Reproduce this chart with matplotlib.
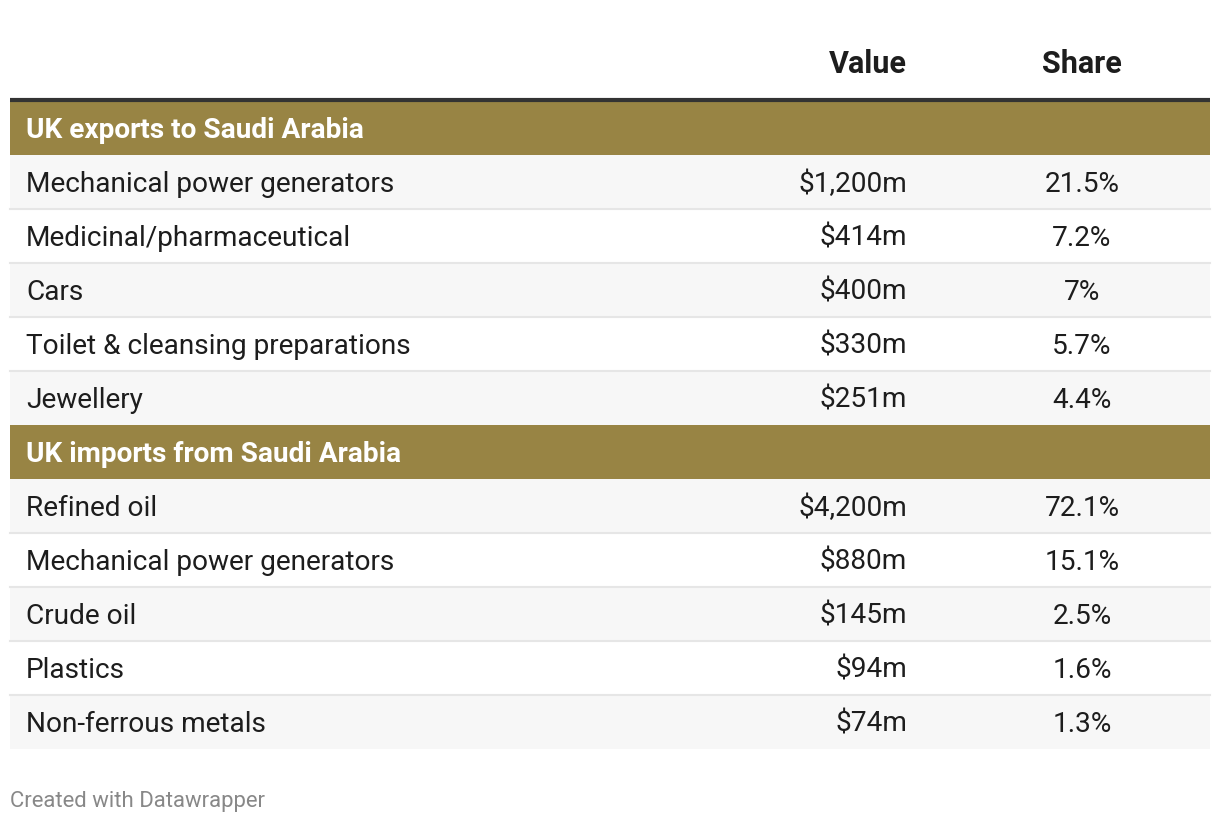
import matplotlib.pyplot as plt
from matplotlib.patches import Rectangle

plt.rcParams['font.family'] = ['Roboto', 'DejaVu Sans']

groups = ["UK exports to Saudi Arabia", "UK imports from Saudi Arabia"]
export_items = ["Mechanical power generators", "Medicinal/pharmaceutical", "Cars",
                "Toilet & cleansing preparations", "Jewellery"]
export_values = ["$1,200m", "$414m", "$400m", "$330m", "$251m"]
export_shares = ["21.5%", "7.2%", "7%", "5.7%", "4.4%"]
import_items = ["Refined oil", "Mechanical power generators", "Crude oil",
                "Plastics", "Non-ferrous metals"]
import_values = ["$4,200m", "$880m", "$145m", "$94m", "$74m"]
import_shares = ["72.1%", "15.1%", "2.5%", "1.6%", "1.3%"]

GOLD = "#988444"
ROW_GRAY = "#f7f7f7"
LINE = "#e6e6e6"
TXT = "#1d1d1d"

W, H = 1220, 824
fig = plt.figure(figsize=(W / 100, H / 100), dpi=100)
ax = fig.add_axes([0, 0, 1, 1])
ax.set_xlim(0, W)
ax.set_ylim(H, 0)
ax.axis("off")

left, right = 10, 1210
val_x, share_x = 907, 1082
row_h = 54
fs = 20.2

# column headers
ax.text(val_x, 64, "Value", ha="right", va="center", fontsize=22, fontweight="bold", color=TXT)
ax.text(share_x, 64, "Share", ha="center", va="center", fontsize=22, fontweight="bold", color=TXT)
ax.plot([left, right], [99.5, 99.5], color="#333333", lw=3, solid_capstyle="butt")

y = 101
for name, items, values, shares in [(groups[0], export_items, export_values, export_shares),
                                    (groups[1], import_items, import_values, import_shares)]:
    ax.add_patch(Rectangle((left, y), right - left, row_h, color=GOLD, lw=0))
    ax.text(26, y + row_h / 2 + 2.5, name, ha="left", va="center", fontsize=fs,
            fontweight="bold", color="white")
    y += row_h
    for i, (item, v, s) in enumerate(zip(items, values, shares)):
        bg = ROW_GRAY if i % 2 == 0 else "white"
        ax.add_patch(Rectangle((left, y), right - left, row_h, color=bg, lw=0))
        if i > 0:
            ax.plot([left, right], [y, y], color=LINE, lw=1.5)
        cy = y + row_h / 2 + 2
        ax.text(26, cy, item, ha="left", va="center", fontsize=fs, color=TXT)
        ax.text(val_x, cy, v, ha="right", va="center", fontsize=fs, color=TXT)
        ax.text(share_x, cy, s, ha="center", va="center", fontsize=fs, color=TXT)
        y += row_h

ax.text(10, 801, "Created with Datawrapper", ha="left", va="center", fontsize=15.9, color="#888888")

fig.savefig("out.png", dpi=100)
